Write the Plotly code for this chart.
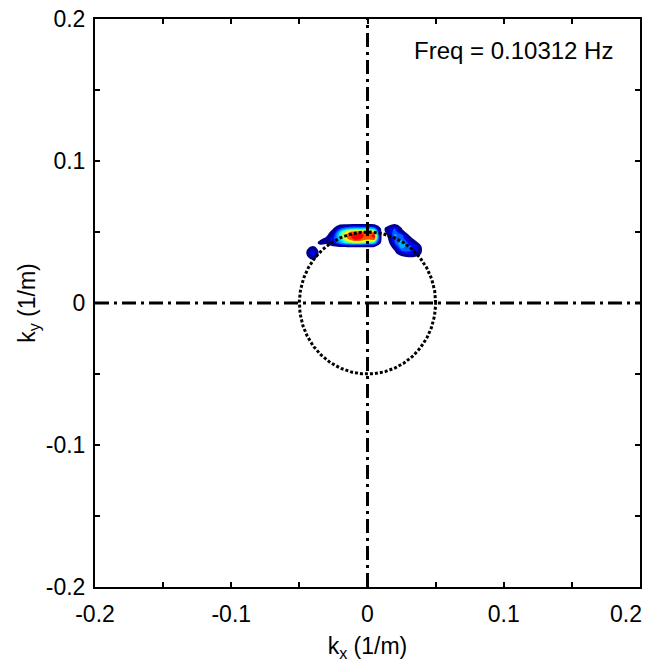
import numpy as np
import plotly.graph_objects as go

# Wavenumber grid of the directional spectrum (1/m)
kx_grid = [-0.050, -0.045, -0.040, -0.035, -0.030, -0.025, -0.020, -0.015, -0.010, -0.005,
           0.000, 0.005, 0.010, 0.015, 0.020, 0.025, 0.030, 0.035, 0.040, 0.045]
ky_grid = [0.0275, 0.0300, 0.0325, 0.0350, 0.0375, 0.0400, 0.0425,
           0.0450, 0.0475, 0.0500, 0.0525, 0.0550, 0.0575]

# Normalised spectral energy, one row per ky value (bottom to top)
energy = [
    [0, 0,    0,    0,    0,    0,    0,    0,    0,    0,    0,    0,    0,    0,    0,    0,    0,    0,    0,    0],
    [0, 0,    0.03, 0,    0,    0,    0,    0,    0,    0,    0,    0,    0,    0,    0,    0,    0,    0,    0,    0],
    [0, 0.04, 0.18, 0,    0,    0,    0,    0,    0,    0,    0,    0,    0,    0,    0,    0.02, 0.06, 0.04, 0,    0],
    [0, 0.06, 0.30, 0,    0,    0,    0,    0,    0,    0,    0,    0,    0,    0,    0.03, 0.18, 0.28, 0.22, 0.06, 0],
    [0, 0.05, 0.22, 0,    0,    0,    0,    0,    0,    0,    0,    0,    0,    0,    0.09, 0.35, 0.32, 0.28, 0.07, 0],
    [0, 0,    0.06, 0.05, 0.02, 0.06, 0.08, 0.09, 0.09, 0.09, 0.09, 0.07, 0,    0,    0.16, 0.50, 0.32, 0.28, 0.04, 0],
    [0, 0,    0,    0.12, 0.11, 0.22, 0.42, 0.58, 0.68, 0.68, 0.62, 0.52, 0,    0,    0.30, 0.48, 0.28, 0.13, 0,    0],
    [0, 0,    0,    0.05, 0.13, 0.28, 0.52, 0.78, 0.92, 0.90, 0.82, 0.88, 0.02, 0.05, 0.32, 0.38, 0.17, 0.03, 0,    0],
    [0, 0,    0,    0,    0.05, 0.24, 0.58, 0.82, 0.97, 0.95, 0.84, 0.95, 0.02, 0.09, 0.42, 0.36, 0.09, 0,    0,    0],
    [0, 0,    0,    0,    0,    0.15, 0.52, 0.76, 0.86, 0.86, 0.82, 0.76, 0.02, 0.13, 0.38, 0.14, 0.02, 0,    0,    0],
    [0, 0,    0,    0,    0,    0.06, 0.28, 0.42, 0.48, 0.48, 0.48, 0.42, 0.02, 0.14, 0.32, 0.07, 0,    0,    0,    0],
    [0, 0,    0,    0,    0,    0,    0.06, 0.07, 0.08, 0.08, 0.08, 0.06, 0,    0.03, 0.09, 0.02, 0,    0,    0,    0],
    [0, 0,    0,    0,    0,    0,    0,    0,    0,    0,    0,    0,    0,    0,    0,    0,    0,    0,    0,    0],
]

# Dispersion-relation circle radius (1/m) and reference axes
k_radius = 0.05
axis_span = [-0.2, 0.2]
axis_zero = [0.0, 0.0]

tick_vals = [-0.2, -0.15, -0.1, -0.05, 0.0, 0.05, 0.1, 0.15, 0.2]
y_tick_text = ["-0.2", "", "-0.1", "", "0", "", "0.1", "", "0.2"]
# the rightmost x label is placed separately so it stays inside the page
x_tick_text = ["-0.2", "", "-0.1", "", "0", "", "0.1", "", ""]
x_last_label = "0.2"

freq_label = "Freq = 0.10312 Hz"

# Band colours (transparent below first level, then jet-like)
band_colors = ["rgba(255,255,255,0)", "#00008f", "#0000ff", "#0060ff", "#00b0ff",
               "#00ffff", "#a0ff60", "#ffff00", "#ff5000", "#f00000"]
n_bands = len(band_colors) - 1
colorscale = [[i / n_bands, c] for i, c in enumerate(band_colors)]

FONT = "Liberation Sans, Arial, sans-serif"
TICK_SIZE = 23

fig = go.Figure()

fig.add_trace(go.Contour(
    x=kx_grid, y=ky_grid, z=energy,
    zmin=0, zmax=1,
    autocontour=False,
    contours=dict(start=0.1, end=0.9, size=0.1, coloring="fill", showlines=False),
    line=dict(width=0),
    colorscale=colorscale,
    showscale=False,
    hoverinfo="skip",
))

# outer contour line of the spectrum
fig.add_trace(go.Contour(
    x=kx_grid, y=ky_grid, z=energy,
    autocontour=False,
    contours=dict(start=0.1, end=0.1, size=0.1, coloring="none", showlines=True),
    line=dict(width=2, color="#00008f"),
    showscale=False,
    hoverinfo="skip",
))

theta = np.linspace(0, 2 * np.pi, 361)
fig.add_trace(go.Scatter(
    x=k_radius * np.cos(theta), y=k_radius * np.sin(theta),
    mode="lines", line=dict(color="black", width=3, dash="3px,2px"),
    hoverinfo="skip", showlegend=False,
))

dashdot = "14px,5px,3px,5px"
fig.add_trace(go.Scatter(x=axis_span, y=axis_zero, mode="lines",
                         line=dict(color="black", width=3, dash=dashdot),
                         hoverinfo="skip", showlegend=False))
fig.add_trace(go.Scatter(x=axis_zero, y=axis_span, mode="lines",
                         line=dict(color="black", width=3, dash=dashdot),
                         hoverinfo="skip", showlegend=False))

axis_common = dict(
    range=axis_span, tickmode="array", tickvals=tick_vals,
    ticks="inside", ticklen=5, tickwidth=2, tickcolor="black",
    showline=True, linecolor="black", linewidth=2, mirror="allticks",
    showgrid=False, zeroline=False,
    tickfont=dict(family=FONT, size=TICK_SIZE, color="black"),
)

fig.update_xaxes(**axis_common, ticktext=x_tick_text, ticklabelstandoff=5,
                 title=dict(text="k<sub>x</sub> (1/m)", font=dict(family=FONT, size=23, color="black"),
                            standoff=12))
fig.update_yaxes(**axis_common, ticktext=y_tick_text, ticklabelstandoff=3,
                 title=dict(text="k<sub>y</sub> (1/m)", font=dict(family=FONT, size=23, color="black"),
                            standoff=4))

fig.add_annotation(x=axis_span[1], y=0, xref="x", yref="paper", text=x_last_label,
                   showarrow=False, xanchor="right", yanchor="top", xshift=4, yshift=-12,
                   font=dict(family=FONT, size=TICK_SIZE, color="black"))

fig.add_annotation(x=0.0325, y=0.1777, xref="x", yref="y", text=freq_label,
                   showarrow=False, xanchor="left", yanchor="middle",
                   font=dict(family=FONT, size=24, color="black"))

fig.update_layout(
    width=648, height=666,
    margin=dict(l=95, r=6, t=13, b=79),
    paper_bgcolor="white", plot_bgcolor="white",
    showlegend=False,
)

fig.write_html("out.html")
